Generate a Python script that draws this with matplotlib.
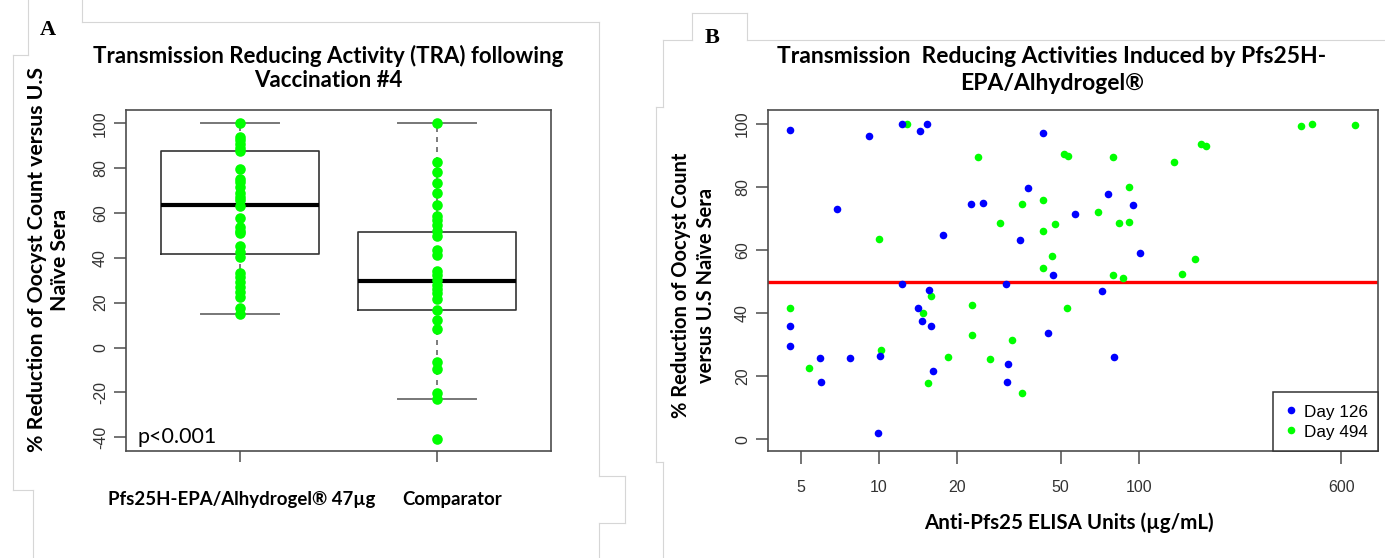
import numpy as np
import matplotlib
matplotlib.use("Agg")
import matplotlib.pyplot as plt
from matplotlib.lines import Line2D
from matplotlib.ticker import NullLocator
from matplotlib.transforms import blended_transform_factory

""" Data : panel A (TRA after vaccination #4) """
groups = ["Pfs25H-EPA/Alhydrogel® 47µg", "Comparator"]
tra_vaccine = [100, 93.7, 92.4, 90.8, 89.0, 87.4, 79.7, 75.3, 73.9, 71.7, 68.8, 67.3,
               65.7, 63.1, 57.8, 53.9, 52.1, 51.0, 45.4, 42.7, 40.5, 33.1, 31.3, 29.4,
               27.1, 24.9, 22.7, 17.5, 15.0]
tra_comparator = [100, 82.7, 78.1, 73.2, 68.8, 63.4, 58.7, 56.9, 54.6, 52.1, 49.7, 43.5,
                  41.3, 34.3, 32.4, 30.1, 27.9, 26.0, 24.2, 21.8, 16.8, 12.3, 8.1, -6.3,
                  -9.7, -20.1, -23.1, -40.6]
# whislo, q1, median, q3, whishi
box_vaccine = [15.0, 41.7, 63.4, 87.6, 100.0]
box_comparator = [-23.1, 16.9, 29.7, 51.5, 100.0]
p_text = "p<0.001"
yticks_a = [-40, -20, 0, 20, 40, 60, 80, 100]

""" Data : panel B (TRA vs ELISA) """
series_names = ["Day 126", "Day 494"]
elisa_d126 = [4.56, 4.56, 4.56, 5.93, 6.0, 6.91, 7.76, 9.15, 9.88, 10.1, 12.3, 12.3,
              14.4, 15.3, 14.1, 14.6, 15.6, 15.8, 16.1, 17.7, 22.5, 25.1, 42.7, 37.3,
              34.9, 56.6, 75.8, 94.6, 101, 46.7, 30.7, 72.1, 44.8, 31.3, 31.0, 80.1]
tra_d126 = [98.2, 35.9, 29.6, 25.8, 18.2, 73.1, 25.8, 96.3, 1.9, 26.4, 100.0, 49.2,
            97.8, 100.0, 41.7, 37.4, 47.4, 35.9, 21.6, 64.9, 74.6, 75.0, 97.1, 79.7,
            63.3, 71.4, 77.7, 74.3, 59.2, 52.0, 49.2, 47.0, 33.7, 23.9, 18.2, 26.2]
elisa_d494 = [4.56, 5.37, 10.0, 10.2, 12.8, 14.8, 15.8, 15.4, 18.4, 22.8, 22.8, 24.0,
              51.6, 53.3, 79.4, 136.7, 173.7, 181, 420, 463, 676, 91.8, 35.5, 42.7,
              29.2, 42.7, 47.5, 69.4, 84.0, 91.3, 46.2, 42.7, 79.4, 86.6, 164, 146,
              52.8, 32.5, 26.8, 35.5]
tra_d494 = [41.6, 22.7, 63.6, 28.3, 100.0, 40.2, 45.4, 17.8, 26.2, 42.5, 33.0, 89.4,
            90.4, 89.9, 89.4, 87.9, 93.7, 92.9, 99.4, 100.0, 99.7, 79.9, 74.6, 75.8,
            68.6, 66.0, 68.2, 72.0, 68.6, 69.0, 58.0, 54.2, 52.0, 51.3, 57.3, 52.3,
            41.6, 31.5, 25.5, 14.8]
tra_cutoff = 50
yticks_b = [0, 20, 40, 60, 80, 100]
xticks_b = [5, 10, 20, 50, 100, 600]

""" Style """
W, H = 1385, 558
HEAD = "Lato"
TICK = "Liberation Sans"
GREEN, BLUE, RED = "#00ff00", "#0000ff", "#ff0000"
FRAME = "#4d4d4d"

fig = plt.figure(figsize=(W / 100, H / 100), dpi=100)


def add_box_axes(left, top, right, bottom):
    # pixel box (top-left origin) -> axes
    return fig.add_axes([left / W, 1 - bottom / H, (right - left) / W, (bottom - top) / H])


def ftext(x, y, s, **kw):
    return fig.text(x / W, 1 - y / H, s, **kw)


def r_style(ax):
    for sp in ax.spines.values():
        sp.set_color(FRAME)
        sp.set_linewidth(1.2)
    ax.tick_params(length=9, width=1.1, color=FRAME, labelsize=11.5,
                   labelcolor="#333333", pad=4)
    for lab in ax.get_xticklabels() + ax.get_yticklabels():
        lab.set_fontfamily(TICK)
    for lab in ax.get_yticklabels():
        lab.set_rotation(90)
        lab.set_va("center")


# faint page-layout lines around the two pasted panels
page_lines = [
    [(28, 0), (28, 55)], [(13, 55), (28, 55)], [(13, 55), (13, 490)],
    [(13, 490), (33, 490)], [(33, 490), (33, 558)],
    [(82, 0), (82, 22)], [(82, 22), (599, 22)], [(599, 22), (599, 476)],
    [(599, 476), (625, 476)], [(625, 476), (625, 523)], [(599, 523), (625, 523)],
    [(599, 523), (599, 558)],
    [(692, 13), (747, 13)], [(692, 13), (692, 40)], [(747, 13), (747, 40)],
    [(747, 40), (1385, 40)], [(663, 40), (692, 40)], [(663, 40), (663, 107)],
    [(656, 107), (663, 107)], [(656, 107), (656, 462)], [(656, 462), (663, 462)],
    [(663, 462), (663, 558)],
]
for seg in page_lines:
    (x0, y0), (x1, y1) = seg
    fig.add_artist(Line2D([x0 / W, x1 / W], [1 - y0 / H, 1 - y1 / H],
                          color="#d6d6d6", lw=0.8, transform=fig.transFigure))

""" Panel A """
axA = add_box_axes(126, 110, 551, 450.7)
stats = []
for b in (box_vaccine, box_comparator):
    stats.append(dict(whislo=b[0], q1=b[1], med=b[2], q3=b[3], whishi=b[4], fliers=[]))
axA.bxp(stats, positions=[1, 2], widths=0.8, capwidths=0.4, showfliers=False,
        boxprops=dict(color="#333333", lw=1.2),
        medianprops=dict(color="black", lw=3),
        whiskerprops=dict(color="#666666", lw=1.2, ls=(0, (3, 3))),
        capprops=dict(color="#777777", lw=1.4))
for i, vals in enumerate([tra_vaccine, tra_comparator]):
    axA.scatter(np.full(len(vals), i + 1), vals, s=58, c=GREEN, linewidths=0, zorder=3)
axA.set_xlim(0.42, 2.58)
axA.set_ylim(-46.0, 105.9)
axA.set_yticks(yticks_a)
axA.set_yticklabels([str(v) for v in yticks_a])
axA.set_xticks([1, 2])
axA.set_xticklabels(["", ""])
r_style(axA)
axA.tick_params(axis="x", length=8)

trA = blended_transform_factory(axA.transData, fig.transFigure)
label_shift = [0.01, 0.076]
for i, g in enumerate(groups):
    axA.text(i + 1 + label_shift[i], 1 - 500 / H, g, transform=trA, ha="center",
             va="center", fontsize=13.4, fontweight="bold", family=HEAD)
axA.text(0.026, 0.04, p_text, transform=axA.transAxes, ha="left", va="center",
         fontsize=15.5, family=HEAD)

ftext(328, 68, "Transmission Reducing Activity (TRA) following\nVaccination #4",
      ha="center", va="center", fontsize=16, fontweight="bold", family=HEAD,
      linespacing=1.2)
ftext(48.5, 260, "% Reduction of Oocyst Count versus U.S\nNaïve Sera", rotation=90,
      ha="center", va="center", fontsize=15.3, fontweight="bold", family=HEAD,
      linespacing=1.15)
ftext(48, 30, "A", ha="center", va="center", fontsize=16, fontweight="bold",
      family="Liberation Serif")

""" Panel B """
axB = add_box_axes(768, 110, 1377.7, 450.7)
axB.set_xscale("log")
axB.scatter(elisa_d494, tra_d494, s=30, c=GREEN, linewidths=0, zorder=3,
            label=series_names[1])
axB.scatter(elisa_d126, tra_d126, s=30, c=BLUE, linewidths=0, zorder=4,
            label=series_names[0])
axB.axhline(tra_cutoff, color=RED, lw=2.4, zorder=2)
axB.set_xlim(3.742, 828)
axB.set_ylim(-3.6, 104.4)
axB.set_xticks(xticks_b)
axB.set_xticklabels([str(v) for v in xticks_b])
axB.xaxis.set_minor_locator(NullLocator())
axB.set_yticks(yticks_b)
axB.set_yticklabels([str(v) for v in yticks_b])
r_style(axB)
axB.tick_params(axis="x", pad=12)

h, l = axB.get_legend_handles_labels()
leg = axB.legend(h[::-1], l[::-1], loc="lower right", borderaxespad=0, fancybox=False,
                 framealpha=1, edgecolor="#333333", handletextpad=0.3,
                 handlelength=1.0, handleheight=1.4, borderpad=0.55, labelspacing=0.0,
                 prop=dict(family=TICK, size=12.3))
leg.get_frame().set_linewidth(1.1)

ftext(1052, 70, "Transmission  Reducing Activities Induced by Pfs25H-\nEPA/Alhydrogel®",
      ha="center", va="center", fontsize=16.5, fontweight="bold", family=HEAD,
      linespacing=1.3)
ftext(693.5, 285, "% Reduction of Oocyst Count\nversus U.S Naïve Sera", rotation=90,
      ha="center", va="center", fontsize=14.5, fontweight="bold", family=HEAD,
      linespacing=1.3)
ftext(1069, 523, "Anti-Pfs25 ELISA Units (µg/mL)", ha="center", va="center",
      fontsize=14.8, fontweight="bold", family=HEAD)
ftext(712, 38, "B", ha="center", va="center", fontsize=16, fontweight="bold",
      family="Liberation Serif")

fig.savefig("out.png", dpi=100, facecolor="white")
